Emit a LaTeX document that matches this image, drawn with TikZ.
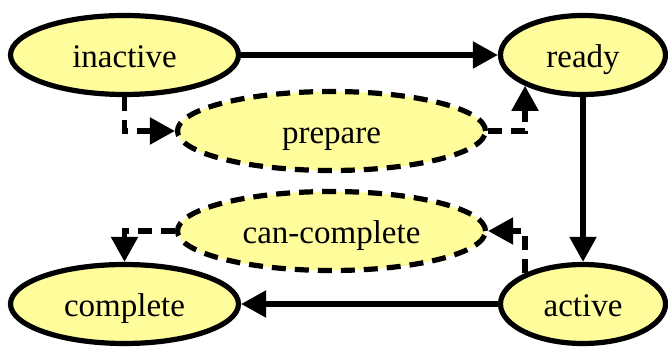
\documentclass[tikz,border=0pt]{standalone}
\usepackage{fontspec}
\setmainfont{Liberation Serif}
\usetikzlibrary{shapes.geometric,arrows.meta}
\definecolor{stateyellow}{RGB}{255,252,155}

\begin{document}
\begin{tikzpicture}[x=1pt, y=1pt,
    state/.style={draw, ellipse, line width=2.6pt, fill=stateyellow, minimum height=39.5pt, inner sep=0pt, text height=13pt, text depth=0pt, font=\fontsize{16.5}{20}\selectfont},
    optstate/.style={state, dash pattern=on 7pt off 4.5pt},
    trans/.style={-{Triangle[length=12.5pt,width=13pt]}, line width=2.6pt},
    opttrans/.style={trans, dash pattern=on 7pt off 4.5pt}]
    \useasboundingbox (0,0) rectangle (334,173.5);

    \node[state, minimum width=114pt] (inactive) at (62.25,146) {inactive};
    \node[state, minimum width=82.5pt] (ready) at (291.5,146) {ready};
    \node[optstate, minimum width=154pt] (prepare) at (165.75,108) {prepare};
    \node[optstate, minimum width=154pt] (cancomplete) at (165.75,58) {can-complete};
    \node[state, minimum width=114pt] (complete) at (62.25,21.5) {complete};
    \node[state, minimum width=82.5pt] (active) at (291.5,21.5) {active};

    \draw[trans] (inactive) -- (ready);
    \draw[trans] (ready) -- (active);
    \draw[trans] (active) -- (complete);

    \draw[opttrans] (inactive) |- (prepare);
    \draw[opttrans] (prepare) -| (ready.208);
    \draw[opttrans] (active.152) |- (cancomplete);
    \draw[opttrans] (cancomplete) -| (complete);
\end{tikzpicture}
\end{document}
